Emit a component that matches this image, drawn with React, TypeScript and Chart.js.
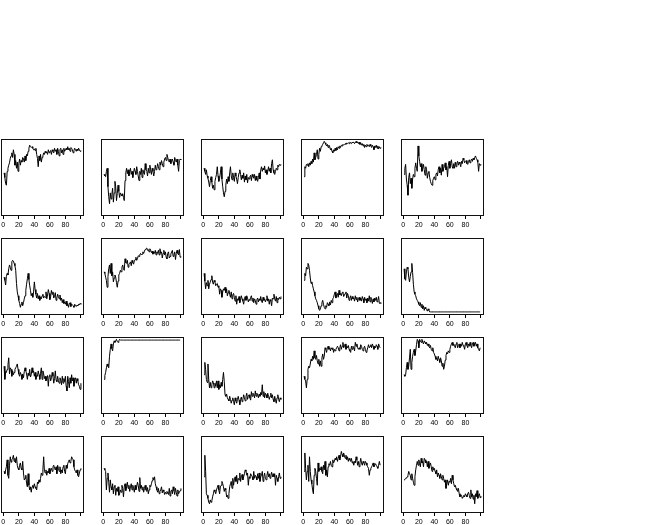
import React, { useEffect, useRef } from 'react';
import { Chart, registerables } from 'chart.js';

Chart.register(...registerables);

// x-axis ticks (R style: 0..100, the 100 tick left unlabeled)
const xTicks = [0, 20, 40, 60, 80, 100];
const xTickLabels = ['0', '20', '40', '60', '80', ''];

// Each series: 100 values, read as position within panel (0 = bottom, 100 = top)
const p1 = [56, 50, 42, 40, 58, 62, 66, 69, 75, 78, 82, 76, 86, 80, 66, 72, 62, 70, 58, 68, 74, 66, 72, 70, 76, 74, 70, 78, 72, 80, 78, 84, 88, 92, 90, 89, 90, 88, 86, 87, 85, 88, 80, 75, 64, 78, 72, 80, 70, 76, 78, 82, 80, 84, 82, 83, 80, 86, 82, 84, 85, 80, 86, 84, 82, 88, 84, 86, 80, 88, 84, 78, 86, 88, 82, 86, 80, 88, 84, 86, 88, 86, 90, 86, 88, 84, 89, 88, 86, 82, 85, 88, 86, 84, 87, 85, 88, 86, 84, 85];
const p2 = [54, 52, 51, 58, 62, 38, 25, 16, 30, 22, 28, 36, 18, 30, 45, 38, 20, 29, 40, 32, 24, 30, 28, 26, 29, 24, 20, 46, 56, 62, 55, 60, 52, 58, 62, 54, 58, 50, 56, 62, 58, 54, 64, 58, 52, 46, 58, 54, 62, 50, 60, 56, 54, 68, 60, 58, 52, 62, 56, 66, 60, 54, 62, 58, 52, 58, 66, 60, 62, 68, 64, 60, 70, 66, 72, 68, 64, 70, 74, 76, 72, 80, 76, 72, 70, 74, 68, 72, 74, 70, 66, 76, 72, 70, 74, 66, 58, 72, 74, 73];
const p3 = [62, 58, 54, 60, 52, 49, 44, 38, 46, 51, 44, 36, 40, 34, 45, 50, 54, 64, 52, 45, 49, 56, 64, 48, 38, 30, 25, 32, 40, 48, 42, 51, 45, 56, 64, 52, 47, 56, 50, 45, 56, 52, 48, 42, 50, 56, 60, 54, 47, 53, 49, 56, 44, 52, 47, 54, 43, 50, 48, 51, 53, 46, 54, 51, 49, 54, 46, 52, 47, 45, 50, 56, 48, 60, 64, 58, 62, 60, 65, 56, 60, 54, 58, 64, 58, 62, 56, 68, 73, 60, 56, 54, 58, 62, 60, 66, 64, 67, 66, 67];
const p4 = [51, 64, 62, 67, 66, 68, 64, 69, 66, 71, 68, 74, 70, 82, 73, 76, 80, 86, 74, 80, 88, 84, 90, 91, 93, 95, 97, 95, 93, 91, 93, 89, 92, 90, 86, 88, 84, 82, 86, 84, 88, 85, 89, 86, 90, 88, 91, 89, 92, 91, 93, 92, 93, 94, 93, 95, 94, 95, 94, 96, 95, 94, 96, 95, 96, 94, 95, 97, 95, 96, 94, 96, 93, 95, 92, 94, 91, 93, 89, 92, 90, 93, 91, 92, 90, 93, 91, 89, 92, 90, 86, 91, 89, 92, 88, 91, 87, 90, 88, 89];
const p5 = [54, 62, 67, 48, 40, 27, 50, 56, 42, 49, 36, 48, 54, 51, 62, 69, 62, 58, 91, 78, 71, 64, 68, 58, 62, 67, 60, 53, 64, 60, 49, 56, 58, 50, 45, 42, 40, 46, 49, 51, 47, 54, 56, 52, 60, 64, 56, 62, 53, 67, 58, 62, 64, 69, 60, 64, 51, 66, 71, 62, 68, 73, 64, 62, 68, 62, 70, 64, 69, 71, 66, 70, 68, 64, 71, 68, 75, 73, 69, 71, 72, 68, 67, 71, 73, 69, 72, 74, 71, 75, 73, 76, 78, 75, 73, 70, 58, 68, 66, 67];
const p6 = [49, 45, 39, 50, 54, 52, 60, 65, 62, 58, 69, 71, 70, 67, 64, 58, 41, 30, 25, 19, 15, 10, 14, 17, 12, 16, 21, 25, 32, 40, 47, 54, 46, 38, 32, 25, 28, 23, 30, 43, 33, 27, 22, 28, 21, 25, 19, 23, 21, 25, 27, 22, 24, 23, 30, 21, 26, 33, 28, 20, 24, 32, 27, 30, 22, 25, 29, 19, 22, 27, 24, 21, 26, 19, 22, 16, 20, 15, 17, 14, 18, 12, 15, 10, 14, 16, 11, 14, 13, 12, 10, 14, 12, 11, 13, 12, 14, 13, 15, 14];
const p7 = [56, 54, 49, 45, 36, 50, 60, 65, 54, 67, 51, 56, 43, 48, 52, 49, 42, 36, 44, 52, 54, 58, 56, 62, 65, 60, 58, 73, 68, 67, 71, 62, 66, 67, 69, 64, 71, 68, 66, 70, 72, 75, 71, 73, 77, 76, 78, 80, 78, 79, 82, 80, 83, 85, 86, 87, 84, 85, 82, 86, 84, 81, 83, 79, 82, 80, 84, 78, 82, 80, 84, 78, 86, 80, 82, 74, 80, 84, 78, 82, 75, 73, 80, 82, 74, 76, 79, 82, 84, 76, 78, 82, 72, 80, 84, 80, 78, 85, 75, 76];
const p8 = [54, 44, 34, 42, 38, 45, 34, 40, 43, 46, 51, 42, 40, 45, 43, 38, 40, 41, 36, 38, 27, 34, 32, 23, 30, 34, 32, 36, 29, 34, 25, 29, 32, 27, 23, 30, 21, 26, 28, 23, 18, 25, 14, 21, 19, 24, 16, 19, 25, 21, 18, 14, 21, 24, 19, 25, 22, 17, 20, 19, 23, 25, 18, 22, 16, 21, 19, 14, 20, 22, 17, 21, 19, 24, 18, 16, 23, 19, 21, 17, 20, 25, 18, 21, 14, 20, 18, 12, 22, 21, 27, 21, 18, 24, 16, 22, 20, 23, 21, 24];
const p9 = [45, 54, 51, 62, 60, 67, 65, 58, 48, 41, 43, 38, 34, 30, 25, 21, 19, 16, 12, 8, 6, 8, 12, 16, 19, 14, 10, 8, 12, 10, 16, 14, 12, 17, 13, 19, 16, 21, 23, 27, 30, 22, 26, 28, 23, 32, 26, 28, 25, 29, 30, 24, 26, 28, 30, 22, 28, 25, 19, 22, 25, 19, 24, 21, 22, 18, 25, 20, 23, 17, 21, 23, 19, 22, 18, 24, 21, 16, 23, 19, 21, 16, 22, 18, 25, 17, 23, 20, 15, 21, 17, 22, 19, 23, 17, 19, 24, 15, 16, 15];
const p10 = [60, 47, 45, 56, 62, 60, 49, 43, 50, 56, 67, 55, 40, 30, 27, 25, 21, 19, 17, 14, 12, 16, 10, 14, 8, 12, 6, 10, 8, 7, 5, 8, 6, 4, 4, 4, 4, 4, 4, 4, 4, 4, 4, 4, 4, 4, 4, 4, 4, 4, 4, 4, 4, 4, 4, 4, 4, 4, 4, 4, 4, 4, 4, 4, 4, 4, 4, 4, 4, 4, 4, 4, 4, 4, 4, 4, 4, 4, 4, 4, 4, 4, 4, 4, 4, 4, 4, 4, 4, 4, 4, 4, 4, 4, 4, 4, 4, 4, 4, 4];
const p11 = [62, 45, 55, 54, 58, 64, 73, 52, 60, 58, 49, 56, 51, 54, 58, 60, 62, 65, 58, 52, 49, 54, 51, 45, 52, 47, 55, 60, 56, 52, 45, 53, 50, 58, 48, 51, 60, 54, 56, 49, 54, 45, 50, 49, 56, 51, 45, 53, 60, 45, 56, 52, 46, 49, 43, 47, 50, 36, 49, 51, 43, 47, 54, 49, 40, 46, 56, 44, 42, 49, 43, 40, 47, 44, 38, 49, 40, 46, 42, 49, 36, 30, 49, 42, 34, 47, 40, 51, 43, 47, 36, 45, 47, 40, 46, 43, 38, 36, 32, 40];
const p12 = [45, 50, 54, 60, 65, 62, 60, 75, 84, 91, 85, 82, 91, 95, 93, 95, 97, 94, 93, 95, 97, 96, 96, 96, 96, 96, 96, 96, 96, 96, 96, 96, 96, 96, 96, 96, 96, 96, 96, 96, 96, 96, 96, 96, 96, 96, 96, 96, 96, 96, 96, 96, 96, 96, 96, 96, 96, 96, 96, 96, 96, 96, 96, 96, 96, 96, 96, 96, 96, 96, 96, 96, 96, 96, 96, 96, 96, 96, 96, 96, 96, 96, 96, 96, 96, 96, 96, 96, 96, 96, 96, 96, 96, 96, 96, 96, 96, 96, 96, 96];
const p13 = [51, 67, 58, 45, 41, 65, 45, 34, 41, 34, 38, 43, 41, 34, 40, 36, 43, 34, 43, 32, 38, 34, 41, 36, 45, 54, 42, 25, 23, 26, 21, 19, 17, 23, 19, 14, 18, 21, 16, 12, 21, 17, 14, 19, 23, 18, 12, 19, 22, 16, 19, 25, 21, 17, 23, 27, 19, 23, 25, 21, 18, 29, 23, 27, 25, 21, 30, 23, 27, 25, 21, 26, 23, 28, 25, 38, 23, 29, 21, 27, 25, 21, 27, 23, 19, 23, 27, 21, 25, 19, 16, 23, 18, 14, 21, 25, 19, 16, 21, 19];
const p14 = [49, 45, 43, 34, 45, 58, 62, 60, 65, 71, 69, 75, 71, 82, 73, 71, 76, 69, 65, 71, 62, 69, 62, 73, 78, 71, 75, 86, 84, 80, 86, 88, 84, 86, 82, 86, 84, 86, 80, 84, 82, 84, 86, 88, 86, 82, 86, 90, 84, 88, 93, 86, 88, 91, 84, 88, 86, 89, 84, 82, 80, 88, 84, 88, 86, 82, 93, 88, 91, 86, 84, 86, 84, 90, 88, 84, 82, 86, 88, 84, 80, 82, 86, 90, 86, 88, 90, 86, 91, 88, 84, 88, 86, 90, 88, 84, 91, 88, 86, 86];
const p15 = [51, 49, 51, 60, 67, 58, 62, 73, 84, 58, 67, 75, 80, 84, 76, 82, 90, 97, 95, 86, 97, 95, 93, 97, 93, 91, 95, 93, 91, 93, 89, 91, 88, 86, 89, 84, 82, 86, 80, 78, 75, 71, 73, 69, 75, 71, 67, 73, 69, 62, 66, 58, 62, 70, 76, 80, 78, 82, 80, 84, 88, 91, 93, 89, 91, 88, 86, 91, 93, 86, 89, 91, 86, 91, 88, 93, 89, 88, 84, 91, 93, 89, 86, 91, 88, 93, 89, 86, 91, 93, 88, 91, 93, 88, 91, 86, 84, 82, 86, 86];
const p16 = [54, 51, 56, 60, 69, 49, 45, 62, 73, 66, 69, 71, 75, 67, 71, 65, 73, 62, 58, 56, 62, 65, 58, 56, 67, 52, 43, 45, 49, 38, 34, 51, 36, 30, 34, 27, 34, 36, 32, 38, 34, 32, 30, 40, 38, 43, 40, 45, 52, 49, 56, 73, 54, 52, 56, 49, 54, 52, 58, 51, 56, 58, 54, 60, 62, 58, 56, 60, 51, 62, 58, 54, 60, 51, 56, 52, 60, 62, 54, 51, 62, 58, 64, 67, 69, 65, 67, 73, 71, 69, 60, 56, 54, 52, 56, 49, 47, 52, 56, 58];
const p17 = [58, 56, 54, 30, 45, 52, 40, 27, 43, 34, 30, 38, 25, 34, 36, 23, 32, 28, 34, 23, 25, 30, 27, 36, 32, 21, 34, 38, 29, 34, 40, 32, 36, 28, 34, 38, 30, 36, 32, 27, 36, 30, 34, 40, 36, 28, 46, 32, 36, 30, 34, 27, 32, 36, 30, 28, 33, 25, 30, 36, 34, 38, 42, 46, 43, 47, 38, 34, 30, 27, 32, 25, 28, 30, 34, 26, 30, 28, 24, 27, 25, 28, 26, 24, 32, 22, 28, 30, 25, 34, 29, 24, 32, 27, 22, 30, 25, 27, 29, 32];
const p18 = [47, 75, 54, 25, 23, 19, 14, 12, 17, 14, 16, 21, 25, 30, 28, 25, 30, 33, 36, 30, 25, 34, 36, 41, 38, 34, 28, 32, 30, 21, 23, 19, 25, 34, 38, 41, 32, 45, 36, 43, 47, 41, 49, 38, 45, 43, 52, 41, 47, 50, 43, 47, 51, 56, 54, 49, 52, 36, 47, 45, 51, 49, 47, 43, 54, 45, 49, 47, 43, 51, 45, 52, 41, 47, 49, 54, 41, 47, 52, 45, 43, 49, 54, 47, 51, 45, 49, 53, 47, 51, 47, 51, 36, 49, 45, 41, 47, 52, 45, 47];
const p19 = [54, 78, 58, 43, 54, 62, 41, 73, 54, 43, 38, 30, 25, 49, 58, 54, 45, 36, 65, 54, 58, 56, 60, 54, 51, 62, 56, 67, 49, 56, 47, 60, 64, 62, 67, 62, 60, 69, 65, 67, 71, 69, 73, 67, 71, 75, 69, 73, 80, 76, 73, 78, 74, 71, 75, 69, 73, 67, 71, 69, 67, 71, 65, 67, 62, 67, 65, 73, 69, 62, 67, 60, 65, 71, 65, 62, 67, 65, 62, 67, 65, 62, 60, 58, 49, 56, 58, 60, 62, 65, 60, 62, 64, 62, 60, 58, 62, 67, 62, 62];
const p20 = [43, 44, 45, 45, 47, 49, 54, 51, 49, 43, 51, 45, 40, 36, 47, 56, 62, 67, 62, 69, 64, 60, 71, 65, 67, 60, 71, 69, 65, 67, 60, 67, 58, 62, 65, 60, 54, 60, 56, 58, 54, 51, 56, 47, 52, 49, 45, 51, 47, 43, 49, 45, 40, 43, 32, 38, 43, 36, 41, 40, 45, 38, 49, 43, 38, 34, 36, 32, 30, 28, 32, 25, 21, 24, 23, 19, 21, 23, 21, 25, 23, 21, 25, 27, 23, 19, 30, 21, 25, 18, 23, 12, 25, 21, 29, 19, 23, 25, 20, 22];

const panels = [p1, p2, p3, p4, p5, p6, p7, p8, p9, p10, p11, p12, p13, p14, p15, p16, p17, p18, p19, p20];

const COL_LEFT = [1, 101, 201, 301, 401];
const ROW_TOP = [139, 238, 337, 436];
const BOX_W = 83;
const BOX_H = 77;
const AXIS_H = 12;
const FONT = "'Liberation Sans', Arial, Helvetica, sans-serif";

const boxPlugin = {
  id: 'rbox',
  afterDraw(chart: any) {
    const { ctx, chartArea: a } = chart;
    ctx.save();
    ctx.strokeStyle = '#111';
    ctx.lineWidth = 1;
    ctx.strokeRect(
      Math.round(a.left) + 0.5,
      Math.round(a.top) + 0.5,
      Math.round(a.right - a.left) - 1,
      Math.round(a.bottom - a.top) - 1
    );
    ctx.restore();
  },
};

function Panel({ values, left, top }: { values: number[]; left: number; top: number }) {
  const ref = useRef<HTMLCanvasElement | null>(null);
  useEffect(() => {
    if (!ref.current) return;
    const chart = new Chart(ref.current, {
      type: 'line',
      data: {
        datasets: [
          {
            data: values.map((v, i) => ({ x: i + 1, y: v })),
            borderColor: '#000',
            borderWidth: 1,
            pointRadius: 0,
            tension: 0,
            fill: false,
          },
        ],
      },
      options: {
        responsive: false,
        animation: false,
        devicePixelRatio: 1,
        events: [],
        layout: { padding: 0 },
        plugins: { legend: { display: false }, tooltip: { enabled: false } },
        scales: {
          x: {
            type: 'linear',
            position: 'bottom',
            min: -2.96,
            max: 103.96,
            afterBuildTicks: (s: any) => {
              s.ticks = xTicks.map((v) => ({ value: v }));
            },
            afterFit: (s: any) => {
              s.height = AXIS_H;
            },
            ticks: {
              autoSkip: false,
              maxRotation: 0,
              minRotation: 0,
              padding: 0,
              color: '#000',
              font: { family: FONT, size: 7, lineHeight: 1.86 },
              callback: (v: any) => {
                const k = xTicks.indexOf(Number(v));
                return k >= 0 ? xTickLabels[k] : '';
              },
            },
            grid: {
              display: true,
              drawOnChartArea: false,
              drawTicks: true,
              tickLength: 3,
              color: '#000',
              lineWidth: 1,
            },
            border: { display: false },
          },
          y: { display: false, min: 0, max: 100 },
        },
      } as any,
      plugins: [boxPlugin],
    });
    return () => chart.destroy();
  }, [values]);
  return (
    <canvas
      ref={ref}
      width={BOX_W}
      height={BOX_H + AXIS_H}
      style={{ position: 'absolute', left, top, width: BOX_W, height: BOX_H + AXIS_H }}
    />
  );
}

export default function App() {
  useEffect(() => {
    document.body.style.overflow = 'hidden';
  }, []);
  return (
    <div style={{ position: 'absolute', left: 0, top: 0, width: 656, height: 525, background: '#fff' }}>
      {panels.map((vals, idx) => (
        <Panel
          key={idx}
          values={vals}
          left={COL_LEFT[idx % 5]}
          top={ROW_TOP[Math.floor(idx / 5)]}
        />
      ))}
    </div>
  );
}
